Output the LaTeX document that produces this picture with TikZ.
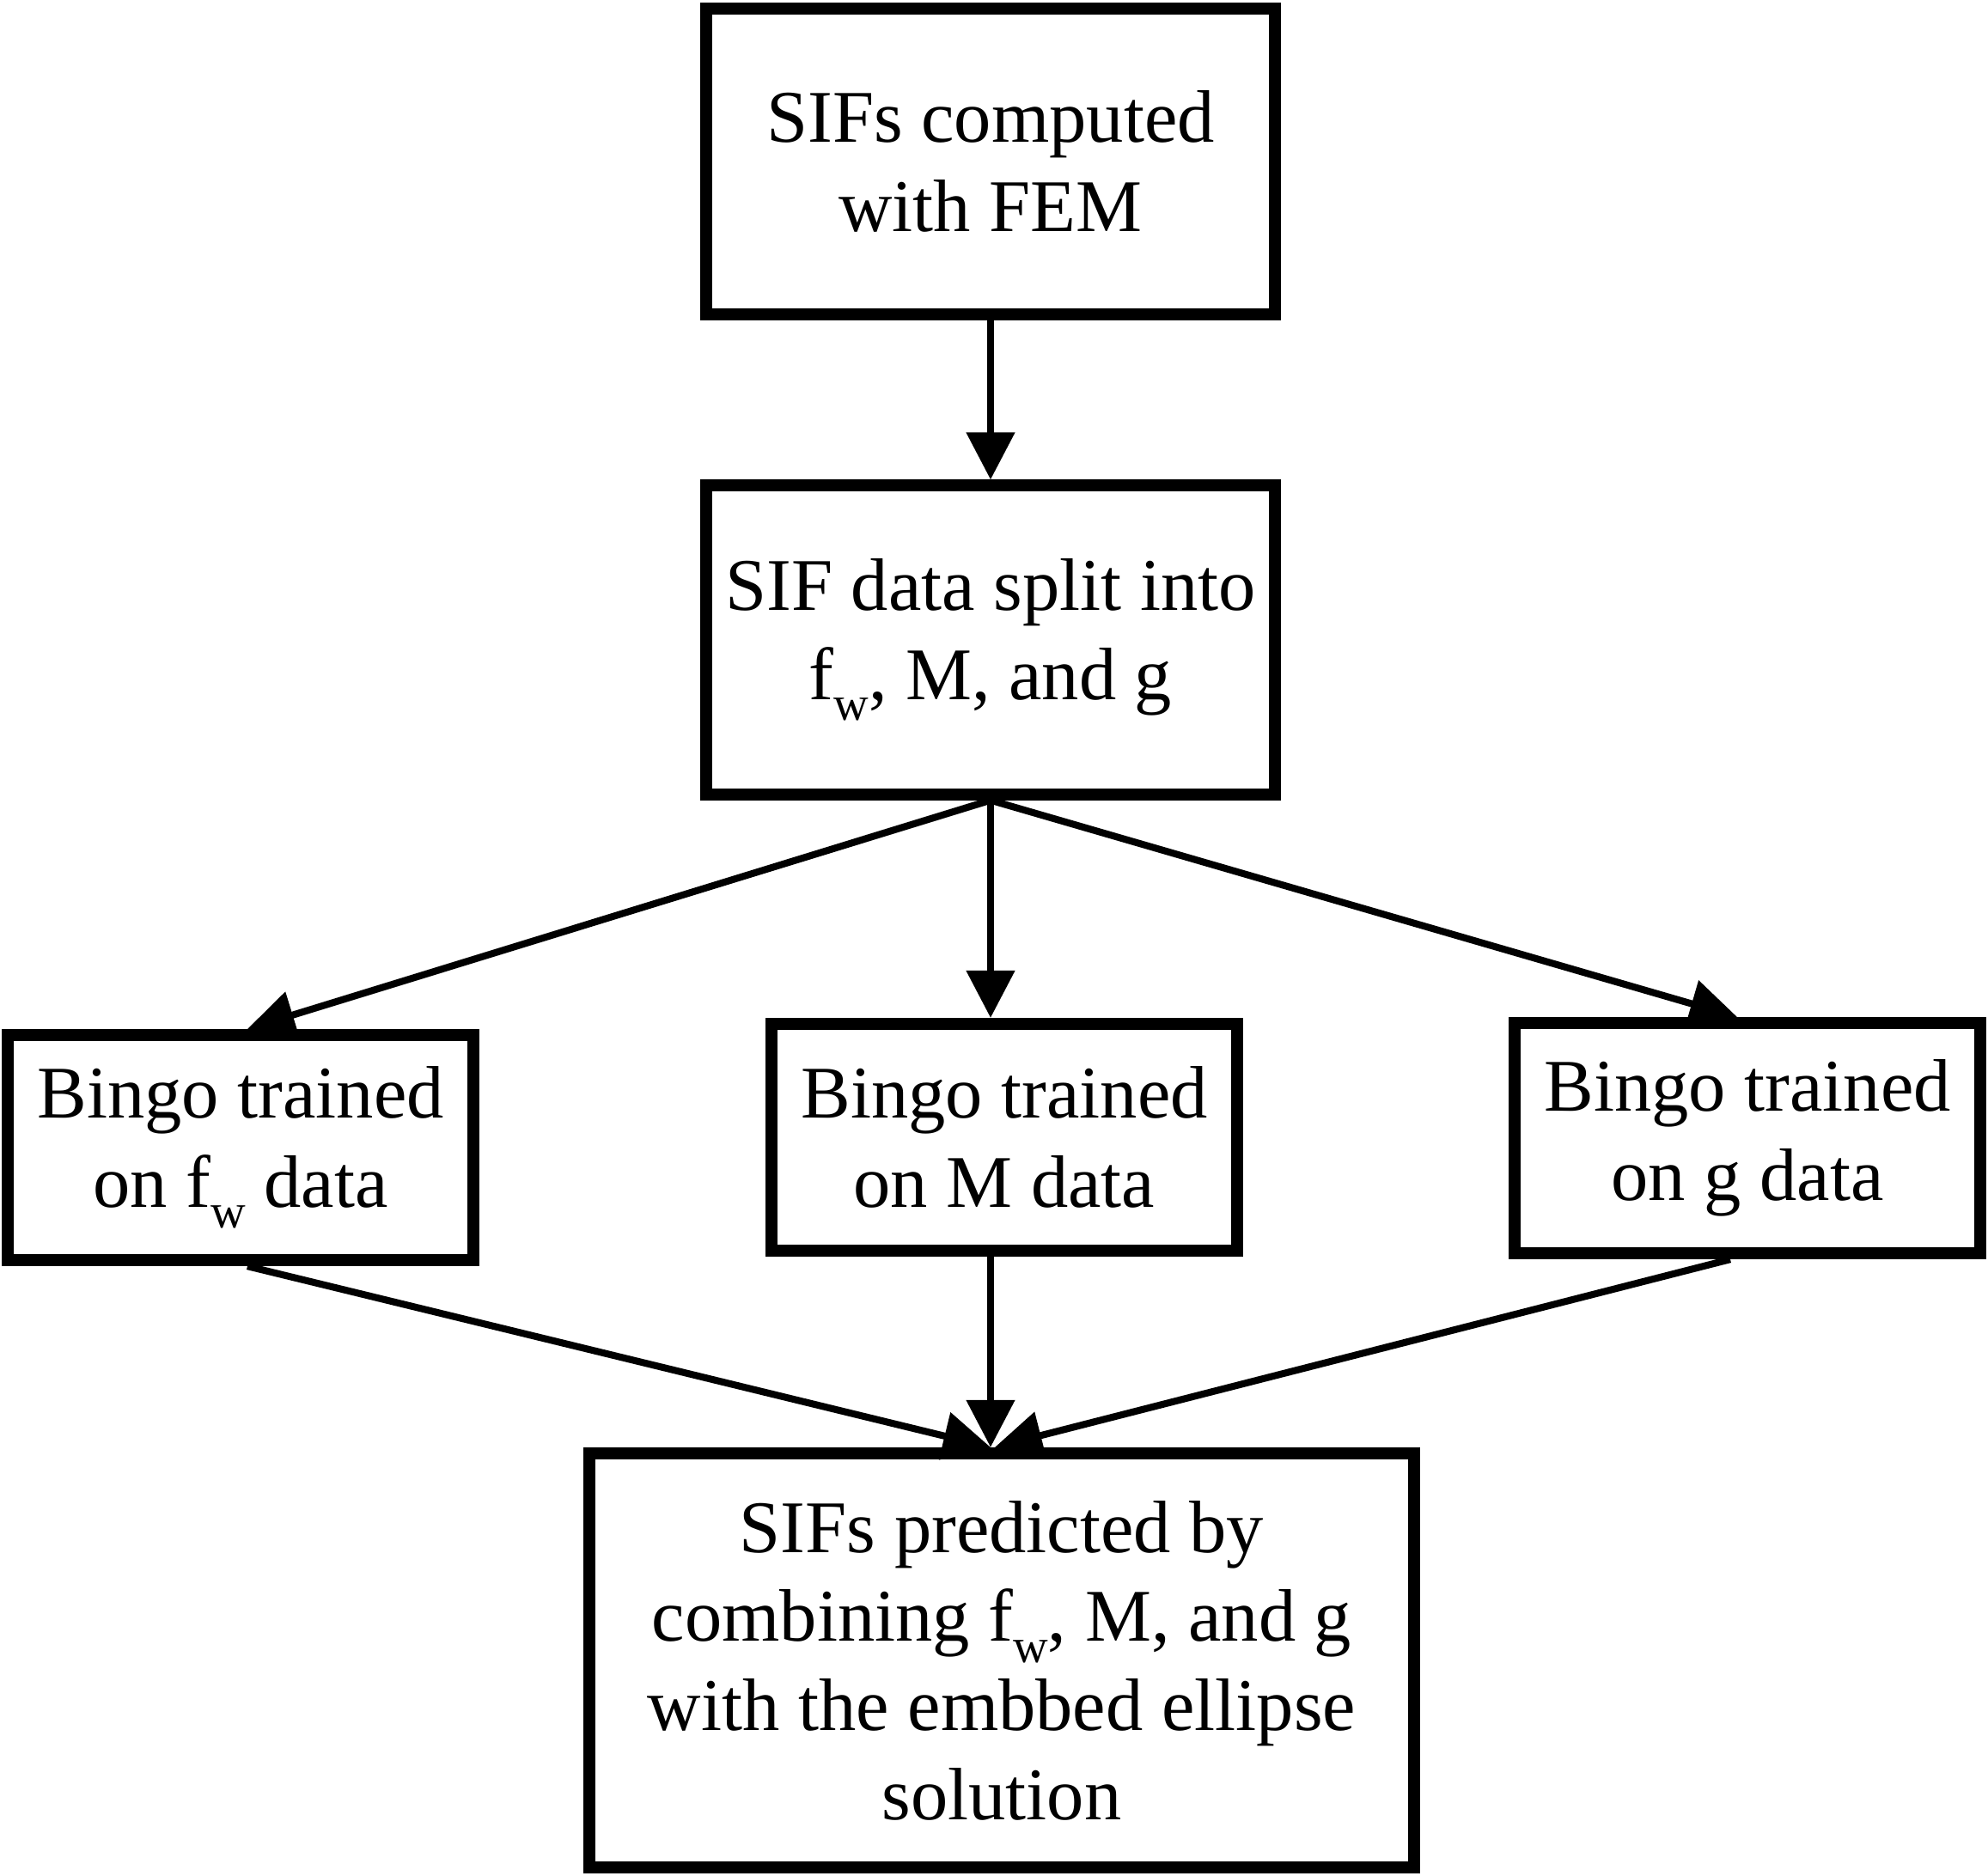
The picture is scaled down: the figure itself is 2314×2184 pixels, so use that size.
\documentclass[tikz,border=0pt]{standalone}
\usepackage{fontspec}
\setmainfont{Liberation Serif}
\usetikzlibrary{arrows.meta}

\newcommand{\fsub}{f\raisebox{-0.62ex}{\fontsize{16}{16}\selectfont w}}

\begin{document}
\begin{tikzpicture}[
  x=0.01cm,
  y=-0.01cm,
  >={Triangle[length=0.55cm, width=0.55cm]},
  stepbox/.style={draw=black, line width=4pt, fill=white, align=center,
    inner sep=0pt, font=\fontsize{24.6}{29.5}\selectfont},
  flow/.style={->, line width=2.3pt, draw=black}
]
\useasboundingbox (0,0) rectangle (2314,2184);

\node[stepbox, minimum width=6.61cm, minimum height=3.56cm] (fem) at (1153,188)
  {SIFs computed\\with FEM};
\node[stepbox, minimum width=6.61cm, minimum height=3.59cm] (split) at (1153,745)
  {SIF data split into\\\fsub, M, and g};
\node[stepbox, minimum width=5.41cm, minimum height=2.62cm] (bfw) at (280,1336)
  {Bingo trained\\on \fsub{} data};
\node[stepbox, minimum width=5.41cm, minimum height=2.64cm] (bm) at (1169,1324)
  {Bingo trained\\on M data};
\node[stepbox, minimum width=5.41cm, minimum height=2.68cm] (bg) at (2034,1325)
  {Bingo trained\\on g data};
\node[stepbox, minimum width=9.60cm, minimum height=4.82cm] (pred) at (1166,1933)
  {SIFs predicted by\\combining \fsub, M, and g\\with the embbed ellipse\\solution};

\draw[flow] (fem.south -| split.north) -- (split.north);
\draw[flow] (split.south) -- ([xshift=0.08cm]bfw.north);
\draw[flow] (split.south) -- (split.south |- bm.north);
\draw[flow] (split.south) -- ([xshift=-0.12cm]bg.north);
\draw[flow] ([xshift=0.08cm]bfw.south) -- (split.south |- pred.north);
\draw[flow] (split.south |- bm.south) -- (split.south |- pred.north);
\draw[flow] ([xshift=-0.2cm]bg.south) -- ([xshift=0.05cm]split.south |- pred.north);

\end{tikzpicture}
\end{document}
